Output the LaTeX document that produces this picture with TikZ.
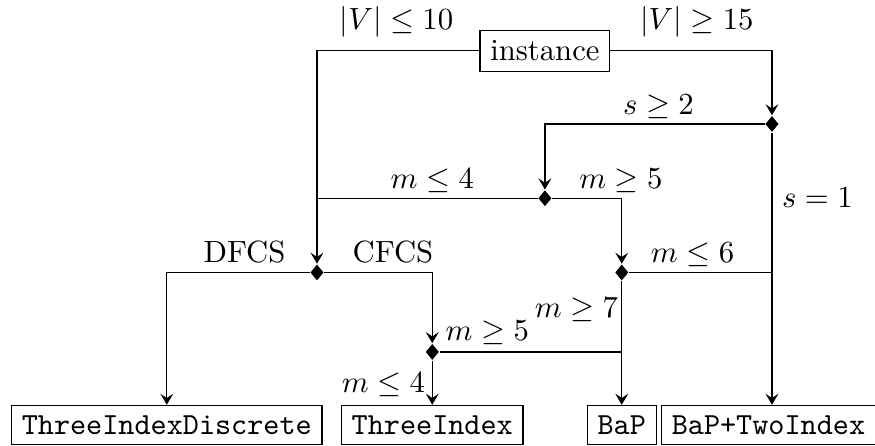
\documentclass[tikz,border=0pt]{standalone}
\usetikzlibrary{shapes.geometric,arrows.meta}

\begin{document}
\begin{tikzpicture}[
    >={Stealth[length=3.6pt,width=4.2pt,inset=1.4pt]},
    box/.style={draw, inner sep=3.33pt},
    dec/.style={diamond, fill, inner sep=0pt, minimum width=4.4pt, minimum height=5.3pt},
    lbl/.style={inner sep=1pt}]
  \useasboundingbox (0,0) rectangle (10.02,5.10);
  % start and decision points
  \node[box] (inst) at (6.24,4.52) {instance};
  \node[dec] (ds) at (8.84,3.68) {};
  \node[dec] (dm) at (6.24,2.83) {};
  \node[dec] (dd) at (3.63,1.98) {};
  \node[dec] (d6) at (7.12,1.98) {};
  \node[dec] (d5) at (4.95,1.07) {};
  % solvers
  \node[box, anchor=south] (tid) at (1.91,0) {\texttt{ThreeIndexDiscrete}};
  \node[box, anchor=south] (ti) at (4.95,0) {\texttt{ThreeIndex}};
  \node[box, anchor=south] (bap) at (7.12,0) {\texttt{BaP}};
  \node[box, anchor=south] (bti) at (8.80,0) {\texttt{BaP+TwoIndex}};
  % branch labels
  \node[lbl] (l1) at (4.54,4.85) {$|V| \leq 10$};
  \node[lbl] (l2) at (7.98,4.85) {$|V| \geq 15$};
  \node[lbl] (l3) at (7.54,3.88) {$s \geq 2$};
  \node[lbl] (l4) at (9.36,2.84) {$s = 1$};
  \node[lbl] (l5) at (4.95,3.03) {$m \leq 4$};
  \node[lbl] (l6) at (7.11,3.03) {$m \geq 5$};
  \node[lbl] (l7) at (2.80,2.21) {DFCS};
  \node[lbl] (l8) at (4.50,2.21) {CFCS};
  \node[lbl] (l9) at (7.93,2.18) {$m \leq 6$};
  \node[lbl] (l10) at (6.60,1.55) {$m \geq 7$};
  \node[lbl] (l11) at (5.58,1.29) {$m \geq 5$};
  \node[lbl] (l12) at (4.39,0.69) {$m \leq 4$};
  % connections
  \draw[->] (inst.west) -| (dd.north);
  \draw[->] (inst.east) -| (ds.north);
  \draw[->] (ds.west) -| (dm.north);
  \draw[->] (ds.south) -- (ds |- bti.north);
  \draw (dm.west) -- (dm -| dd);
  \draw[->] (dm.east) -| (d6.north);
  \draw[->] (dd.west) -| (tid.north);
  \draw[->] (dd.east) -| (d5.north);
  \draw (d6.east) -- (d6 -| ds);
  \draw[->] (d6.south) -- (bap.north);
  \draw (d5.east) -- (d5 -| d6);
  \draw[->] (d5.south) -- (ti.north);
\end{tikzpicture}
\end{document}
